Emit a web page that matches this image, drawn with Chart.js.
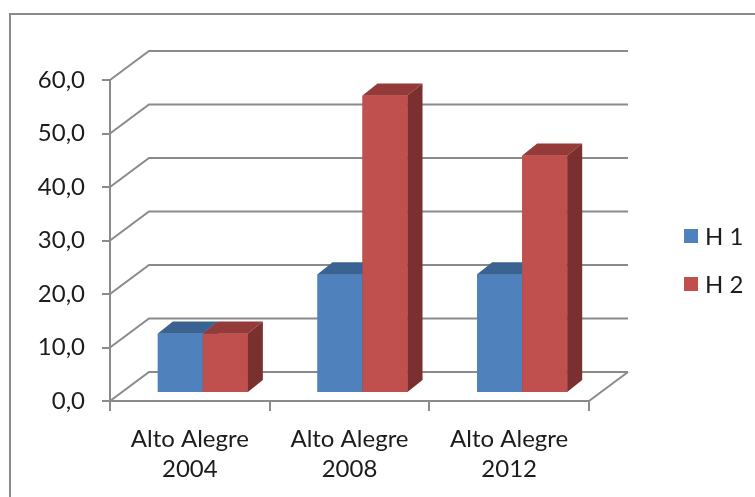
<!DOCTYPE html>
<html>
<head>
<meta charset="utf-8">
<script src="https://cdn.jsdelivr.net/npm/chart.js@4/dist/chart.umd.min.js"></script>
<style>
  html, body { margin: 0; padding: 0; background: #ffffff; }
  #wrap { width: 755px; height: 497px; }
</style>
</head>
<body>
<div id="wrap"><canvas id="c" width="755" height="497"></canvas></div>
<script>
// Categories (two-line labels) and the two series
const categories = [['Alto Alegre', '2004'], ['Alto Alegre', '2008'], ['Alto Alegre', '2012']];
const seriesNames = ['H 1', 'H 2'];
const h1Values = [11.1, 22.2, 22.2];
const h2Values = [11.1, 55.6, 44.4];
const yTicks = { min: 0, max: 60, step: 10 };

// Face colours: front, top, side
const blueFaces = ['#4F81BD', '#3B6391', '#2F5077'];
const redFaces  = ['#C0504D', '#943A38', '#7A302E'];
const faceSets = [blueFaces, redFaces];

const FONT = 'Lato, "Open Sans", sans-serif';
const TEXT = '#1c1c1c';
const LINE = '#8a8a8a';

// 3D geometry: wall depth, bar plane offset, bar depth
const WALL = { dx: 39, dy: -29 };
const PLANE = { dx: 13, dy: -8 };
const BAR = { dx: 15, dy: -12 };

const fmt = v => v.toFixed(1).replace('.', ',');

function drawFaces(ctx, bar, faces) {
  const { x, y, base, width } = bar.getProps(['x', 'y', 'base', 'width'], true);
  const l = x - width / 2, r = x + width / 2;
  // top face
  ctx.fillStyle = faces[1];
  ctx.beginPath();
  ctx.moveTo(l, y);
  ctx.lineTo(l + BAR.dx, y + BAR.dy);
  ctx.lineTo(r + BAR.dx, y + BAR.dy);
  ctx.lineTo(r, y);
  ctx.closePath();
  ctx.fill();
  // side face
  ctx.fillStyle = faces[2];
  ctx.beginPath();
  ctx.moveTo(r, y);
  ctx.lineTo(r + BAR.dx, y + BAR.dy);
  ctx.lineTo(r + BAR.dx, base + BAR.dy);
  ctx.lineTo(r, base);
  ctx.closePath();
  ctx.fill();
}

const frame3d = {
  id: 'frame3d',
  beforeDraw(chart) {
    const ctx = chart.ctx;
    ctx.save();
    // outer chart frame
    ctx.strokeStyle = LINE;
    ctx.lineWidth = 2;
    ctx.beginPath();
    ctx.moveTo(10, 500);
    ctx.lineTo(10, 14);
    ctx.lineTo(760, 14);
    ctx.stroke();

    // back wall gridlines and floor
    const xs = chart.scales.x, ys = chart.scales.y;
    const L = xs.left, R = xs.right;
    for (let v = yTicks.min; v <= yTicks.max; v += yTicks.step) {
      const y = ys.getPixelForValue(v);
      ctx.beginPath();
      ctx.moveTo(L, y);
      ctx.lineTo(L + WALL.dx, y + WALL.dy);
      ctx.lineTo(R + WALL.dx, y + WALL.dy);
      ctx.stroke();
    }
    const y0 = ys.getPixelForValue(0);
    ctx.beginPath();
    ctx.moveTo(R, y0);
    ctx.lineTo(R + WALL.dx, y0 + WALL.dy);
    ctx.stroke();
    ctx.restore();
  },
  beforeDatasetsDraw(chart) {
    chart.ctx.save();
    chart.ctx.translate(PLANE.dx, PLANE.dy);
  },
  afterDatasetsDraw(chart) {
    // paint each category's boxes left to right so the right box hides its neighbour's side
    const ctx = chart.ctx;
    const metas = chart.data.datasets.map((d, i) => chart.getDatasetMeta(i));
    categories.forEach((c, k) => {
      metas.forEach((meta, i) => {
        const bar = meta.data[k];
        bar.draw(ctx, chart.chartArea);
        drawFaces(ctx, bar, faceSets[i]);
      });
    });
    ctx.restore();
  },
  afterDraw(chart) {
    // legend on the right
    const ctx = chart.ctx;
    ctx.save();
    ctx.font = '24px ' + FONT;
    ctx.textBaseline = 'middle';
    ctx.textAlign = 'left';
    chart.data.datasets.forEach((ds, i) => {
      const cy = 236 + i * 48;
      ctx.fillStyle = ds.backgroundColor;
      ctx.fillRect(684, cy - 7, 14, 14);
      ctx.fillStyle = TEXT;
      ctx.fillText(ds.label, 705, cy + 1);
    });
    ctx.restore();
  }
};

new Chart(document.getElementById('c'), {
  type: 'bar',
  data: {
    labels: categories,
    datasets: [
      { label: seriesNames[0], data: h1Values, backgroundColor: blueFaces[0], borderWidth: 0, clip: false },
      { label: seriesNames[1], data: h2Values, backgroundColor: redFaces[0], borderWidth: 0, clip: false }
    ]
  },
  options: {
    responsive: false,
    devicePixelRatio: 1,
    animation: false,
    events: [],
    categoryPercentage: 0.564,
    barPercentage: 1,
    layout: { padding: { top: 80, left: 0, right: 166, bottom: 0 } },
    plugins: { legend: { display: false }, tooltip: { enabled: false } },
    scales: {
      x: {
        afterFit: s => { s.height = 96; },
        grid: { drawOnChartArea: false, drawTicks: true, tickLength: 10, color: LINE, lineWidth: 2, offset: true },
        border: { display: true, color: LINE, width: 2 },
        ticks: { color: TEXT, font: { family: FONT, size: 24, lineHeight: 1.25 }, padding: 13, maxRotation: 0 }
      },
      y: {
        min: yTicks.min, max: yTicks.max,
        afterFit: s => { s.width = 110; },
        grid: { drawOnChartArea: false, drawTicks: true, tickLength: 8, color: LINE, lineWidth: 2 },
        border: { display: true, color: LINE, width: 2 },
        ticks: { stepSize: yTicks.step, color: TEXT, font: { family: FONT, size: 24 }, padding: 17, callback: v => fmt(v) }
      }
    }
  },
  plugins: [frame3d]
});
</script>
</body>
</html>
